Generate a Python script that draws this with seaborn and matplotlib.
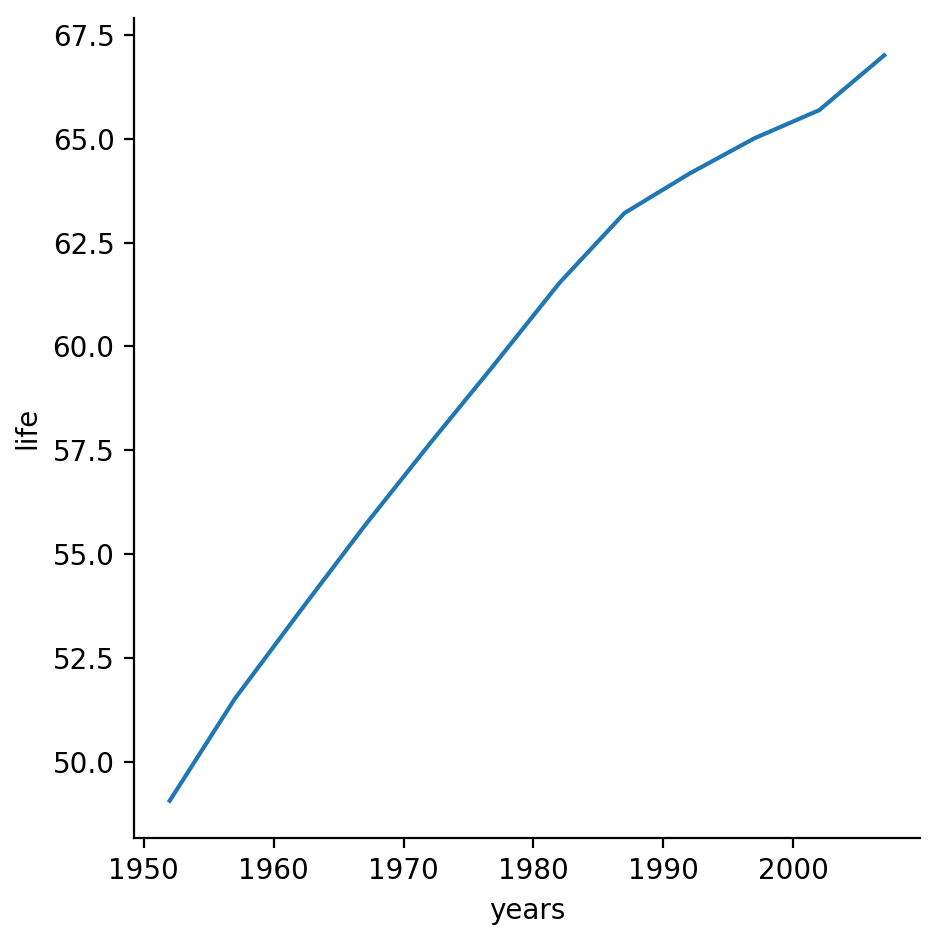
import matplotlib
matplotlib.use("Agg")
import matplotlib.pyplot as plt
import seaborn as sns
import pandas as pd

years = [1952, 1957, 1962, 1967, 1972, 1977, 1982, 1987, 1992, 1997, 2002, 2007]
life = [49.06, 51.51, 53.61, 55.68, 57.65, 59.57, 61.53, 63.21, 64.16, 65.01, 65.69, 67.01]

df = pd.DataFrame({"years": years, "life": life})
g = sns.relplot(data=df, x="years", y="life", kind="line", height=4.7, aspect=1)
g.figure.subplots_adjust(left=134/940, right=920/940, top=1-18/940, bottom=1-838/940)
g.figure.savefig("out.png", dpi=200)
